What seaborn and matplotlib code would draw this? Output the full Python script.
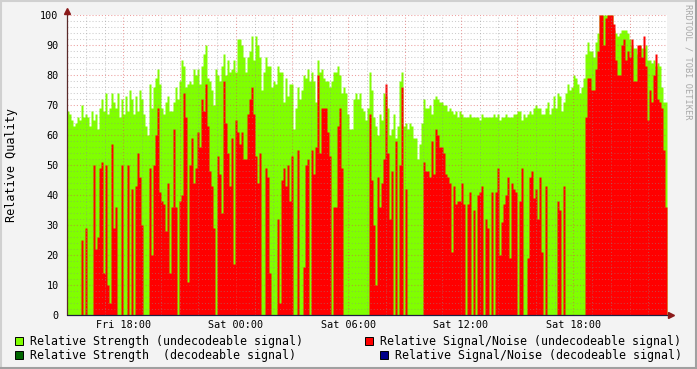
import numpy as np
import pandas as pd
import matplotlib
matplotlib.use("Agg")
import matplotlib.pyplot as plt
import seaborn as sns
from matplotlib.patches import Rectangle
from matplotlib.lines import Line2D

# ---------------- data ----------------
tick_hours = [18, 24, 30, 36, 42]
tick_labels = ["Fri 18:00", "Sat 00:00", "Sat 06:00", "Sat 12:00", "Sat 18:00"]
y_ticks = [0, 10, 20, 30, 40, 50, 60, 70, 80, 90, 100]
start_hour = 15.0   # Fri 15:00
end_hour = 47.0     # Sat 23:00

strength_undecodeable = [
    68, 67, 65, 63, 64, 66, 65, 70, 66, 67, 66, 63, 68, 65, 67, 62, 69, 72, 68, 74,
    67, 69, 74, 71, 69, 74, 66, 72, 67, 73, 68, 75, 72, 67, 73, 68, 75, 72, 67, 63,
    60, 77, 69, 76, 79, 82, 77, 69, 67, 71, 73, 68,
    68, 71, 76, 72, 78, 85, 83, 76, 77, 78, 77, 82, 80, 82, 77, 83, 87, 90, 79, 78,
    75, 70, 82, 80, 78, 83, 87, 80, 85, 81, 82, 85, 81, 92, 92, 90, 86, 81, 86, 88,
    93, 85, 93, 90, 86, 75, 81, 86, 83, 83,
    76, 78, 77, 83, 81, 81, 71, 79, 73, 77, 77, 62, 69, 76, 72, 75, 80, 79, 82, 78,
    81, 78, 71, 85, 81, 82, 79, 78, 78, 76, 78, 81, 81, 83, 80, 74, 76, 74, 67, 62,
    62, 72, 74, 72, 74, 69, 68, 65, 69, 81,
    75, 66, 63, 60, 67, 65, 74, 73, 69, 60, 62, 67, 59, 63, 78, 81, 63, 64, 62, 64,
    63, 59, 59, 52, 57, 64, 72, 69, 69, 70, 67, 72, 73, 72, 71, 71, 70, 70, 68, 69,
    68, 67, 68, 66, 68, 67, 66, 66, 66, 67,
    66, 66, 66, 66, 65, 67, 66, 66, 66, 66, 66, 67, 66, 67, 65, 66, 66, 67, 66, 66,
    66, 67, 67, 68, 68, 65, 67, 66, 67, 68, 67, 69, 70, 69, 69, 67, 67, 69, 71, 67,
    69, 73, 69, 74, 73, 68, 71, 74, 77, 75,
    76, 80, 79, 77, 74, 76, 79, 87, 91, 88, 88, 86, 91, 94, 100, 100, 100, 100, 100, 100,
    100, 95, 94, 93, 94, 95, 95, 95, 94, 92, 90, 89, 89, 87, 90, 89, 89, 90, 85, 85,
    84, 85, 83, 84, 83, 76, 71, 71,
]

snr_undecodeable = [
    0, 0, 0, 0, 0, 0, 0, 25, 0, 29, 0, 0, 0, 50, 22, 26, 49, 51, 14, 50,
    10, 4, 57, 29, 36, 0, 0, 50, 0, 0, 50, 0, 42, 0, 43, 54, 46, 30, 0, 0,
    0, 49, 20, 50, 60, 69, 41, 38, 37, 28, 44, 14,
    36, 62, 36, 0, 38, 40, 74, 66, 11, 50, 59, 44, 49, 61, 56, 72, 68, 77, 63, 48,
    43, 29, 0, 53, 47, 34, 78, 64, 54, 43, 59, 17, 65, 61, 57, 61, 52, 52, 67, 72,
    76, 67, 53, 44, 54, 0, 0, 49, 46, 14,
    0, 0, 0, 32, 4, 45, 49, 43, 50, 38, 53, 0, 0, 55, 0, 0, 16, 50, 52, 0,
    55, 47, 56, 80, 54, 69, 69, 69, 61, 53, 0, 36, 36, 63, 69, 49, 0, 0, 0, 0,
    0, 0, 0, 0, 0, 0, 0, 0, 0, 67,
    45, 30, 10, 46, 36, 44, 52, 77, 54, 32, 48, 0, 58, 0, 50, 76, 0, 42, 0, 0,
    0, 0, 0, 0, 0, 0, 51, 48, 48, 46, 58, 47, 62, 60, 56, 56, 54, 47, 46, 44,
    21, 43, 37, 38, 38, 44, 37, 0, 37, 41,
    0, 35, 0, 40, 41, 43, 0, 32, 29, 0, 41, 0, 41, 49, 20, 31, 37, 40, 46, 19,
    44, 42, 41, 0, 38, 49, 0, 0, 19, 46, 48, 39, 42, 32, 46, 21, 0, 43, 0, 0,
    0, 0, 0, 38, 35, 0, 43, 0, 0, 0,
    0, 0, 0, 0, 0, 0, 0, 66, 79, 79, 75, 75, 82, 88, 100, 100, 90, 99, 100, 100,
    100, 97, 85, 80, 80, 90, 92, 85, 88, 86, 92, 78, 78, 90, 90, 86, 93, 83, 65, 75,
    71, 80, 87, 72, 71, 69, 55, 36,
]

legend_labels = [
    "Relative Strength (undecodeable signal)",
    "Relative Strength  (decodeable signal)",
    "Relative Signal/Noise (undecodeable signal)",
    "Relative Signal/Noise (decodeable signal)",
]
legend_colors = ["#80FF00", "#006600", "#FF0000", "#000088"]

# ---------------- build table ----------------
n = len(strength_undecodeable)
step = (end_hour - start_hour) / n
df = pd.DataFrame({
    "hour": start_hour + (np.arange(n) + 0.5) * step,
    "strength": strength_undecodeable,
    "snr": snr_undecodeable,
})

# ---------------- figure ----------------
W, H = 697, 369
sns.set_theme(style="white")
plt.rcParams['font.family'] = ['DejaVu Sans Mono', 'DejaVu Sans']

fig = plt.figure(figsize=(W / 100, H / 100), dpi=100, facecolor="#F3F3F3")

def fx(x):
    return x / W

def fy(y):
    return 1 - y / H

L, R, T, B = 67, 667, 15, 315
ax = fig.add_axes([fx(L), fy(B), (R - L) / W, (B - T) / H])
ax.set_facecolor("white")

sns.histplot(data=df, x="hour", weights="strength", bins=n, binrange=(start_hour, end_hour),
             element="step", fill=True, color=legend_colors[0], alpha=1, linewidth=0,
             ax=ax, zorder=1)
sns.histplot(data=df, x="hour", weights="snr", bins=n, binrange=(start_hour, end_hour),
             element="step", fill=True, color=legend_colors[2], alpha=1, linewidth=0,
             ax=ax, zorder=2)

ax.set_xlim(start_hour, end_hour)
ax.set_ylim(0, 100)
ax.set_xlabel("")
ax.set_ylabel("")

# grid (drawn over the data, like rrdtool)
dots = (0, (1, 2))
for y in range(2, 101, 2):
    if y % 10 == 0:
        ax.axhline(y, color="#DE5050", alpha=0.55, lw=0.75, ls=dots, zorder=5)
    else:
        ax.axhline(y, color="#8F8F8F", alpha=0.45, lw=0.75, ls=dots, zorder=4)
for h in range(16, 47):
    if h % 3 == 0:
        ax.axvline(h, color="#DE5050", alpha=0.55, lw=0.75, ls=dots, zorder=5)
    else:
        ax.axvline(h, color="#8F8F8F", alpha=0.45, lw=0.75, ls=dots, zorder=4)

ax.set_yticks(y_ticks)
ax.set_yticklabels([str(v) for v in y_ticks])
ax.set_xticks(tick_hours)
ax.set_xticklabels(tick_labels)
ax.tick_params(axis="y", length=0, pad=6, labelsize=7.3, colors="black")
ax.tick_params(axis="x", length=0, pad=3.5, labelsize=7.3, colors="black")
for s in ax.spines.values():
    s.set_visible(False)

# axes with arrows
fig.add_artist(Line2D([fx(L), fx(L)], [fy(B), fy(10)], color="#5A2A2A", lw=0.9, zorder=10))
fig.add_artist(Line2D([fx(L), fx(672)], [fy(B), fy(B)], color="#1E1E40", lw=0.9, zorder=10))
fig.add_artist(Line2D([fx(L)], [fy(11)], marker="^", markersize=4.5, color="#8B1A1A",
                      lw=0, zorder=11))
fig.add_artist(Line2D([fx(671)], [fy(B)], marker=">", markersize=4.5, color="#8B1A1A",
                      lw=0, zorder=11))

# y label
fig.text(fx(12), fy(165), "Relative Quality", rotation=90, ha="center", va="center",
         fontsize=8.5, color="black")

# watermark on the right
fig.text(fx(688), fy(4), "RRDTOOL / TOBI OETIKER", rotation=270, ha="center", va="top",
         fontsize=6.2, color="#A8A8A8")

# legend
legend_pos = [(15, 341), (15, 355), (365, 341), (380, 355)]
for (lx, ly), lab, col in zip(legend_pos, legend_labels, legend_colors):
    fig.patches.append(Rectangle((fx(lx), fy(ly + 4)), 8 / W, 8 / H, transform=fig.transFigure,
                                 facecolor=col, edgecolor="black", lw=0.7, figure=fig))
    fig.text(fx(lx + 15), fy(ly), lab, ha="left", va="center", fontsize=8.35, color="black")

# 3D frame
fig.add_artist(Line2D([0, 1], [fy(1), fy(1)], color="#D0D0D0", lw=1.5))
fig.add_artist(Line2D([fx(1), fx(1)], [0, 1], color="#D0D0D0", lw=1.5))
fig.add_artist(Line2D([0, 1], [fy(368), fy(368)], color="#A0A0A0", lw=1.5))
fig.add_artist(Line2D([fx(696), fx(696)], [0, 1], color="#A0A0A0", lw=1.5))

fig.savefig("out.png", dpi=100, facecolor=fig.get_facecolor())
